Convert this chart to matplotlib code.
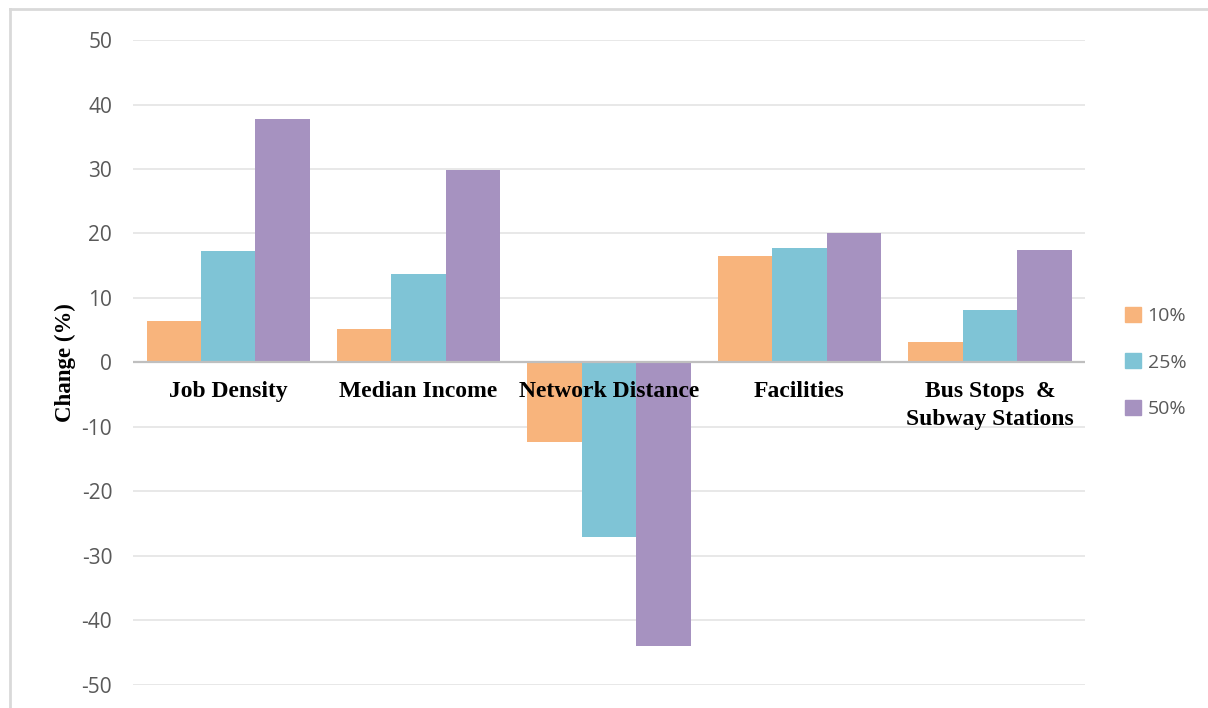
import numpy as np
import matplotlib.pyplot as plt
from matplotlib.lines import Line2D

categories = ['Job Density', 'Median Income', 'Network Distance', 'Facilities',
              'Bus Stops  &\nSubway Stations']
series_names = ['10%', '25%', '50%']
vals_10 = [6.5, 5.2, -12.4, 16.5, 3.2]
vals_25 = [17.3, 13.7, -27.0, 17.8, 8.2]
vals_50 = [37.8, 29.9, -43.9, 20.0, 17.5]
colors = ['#F8B47C', '#7FC4D6', '#A692C0']

plt.rcParams['axes.unicode_minus'] = False

fig = plt.figure(figsize=(12.08, 7.08), dpi=100)
ax = fig.add_axes([0.1101, 0.0325, 0.7881, 0.911])

x = np.arange(len(categories))
width = 0.286
for i, (name, vals) in enumerate(zip(series_names, [vals_10, vals_25, vals_50])):
    ax.bar(x + (i - 1) * width, vals, width, color=colors[i], label=name, zorder=2)

ax.set_xlim(-0.5, len(categories) - 0.5)
ax.set_ylim(-50, 50)
ax.set_yticks(range(-50, 51, 10))
ax.yaxis.grid(True, color='#E6E6E6', linewidth=1.3, zorder=0)
ax.set_axisbelow(True)
ax.axhline(0, color='#BFBFBF', linewidth=1.6, zorder=3)
ax.set_xticks([])
for s in ax.spines.values():
    s.set_visible(False)
ax.tick_params(axis='y', length=0, pad=15, labelsize=15, labelcolor='#595959')
for lab in ax.get_yticklabels():
    lab.set_fontfamily('Open Sans')

for xi, cat in zip(x, categories):
    ax.text(xi, -2.9, cat, ha='center', va='top', fontsize=17, fontweight='bold',
            family='Liberation Serif', linespacing=1.4, zorder=5)

ax.set_ylabel('Change (%)', fontsize=16.5, fontweight='bold', family='Liberation Serif',
              labelpad=4)

handles = [plt.Rectangle((0, 0), 1, 1, color=c) for c in colors]
leg = fig.legend(handles, series_names, loc='center left', bbox_to_anchor=(0.917, 0.488),
                 frameon=False, handlelength=0.8, handleheight=0.8,
                 handletextpad=0.35, labelspacing=1.45, prop={'family': 'Open Sans', 'size': 14})
for t in leg.get_texts():
    t.set_color('#595959')

# outer frame (top and left edges only visible)
fig.add_artist(Line2D([0.0083, 1.0], [0.9866, 0.9866], color='#D9D9D9', linewidth=2,
                      transform=fig.transFigure))
fig.add_artist(Line2D([0.0083, 0.0083], [0.0, 0.9866], color='#D9D9D9', linewidth=2,
                      transform=fig.transFigure))

fig.savefig('out.png', dpi=100)
